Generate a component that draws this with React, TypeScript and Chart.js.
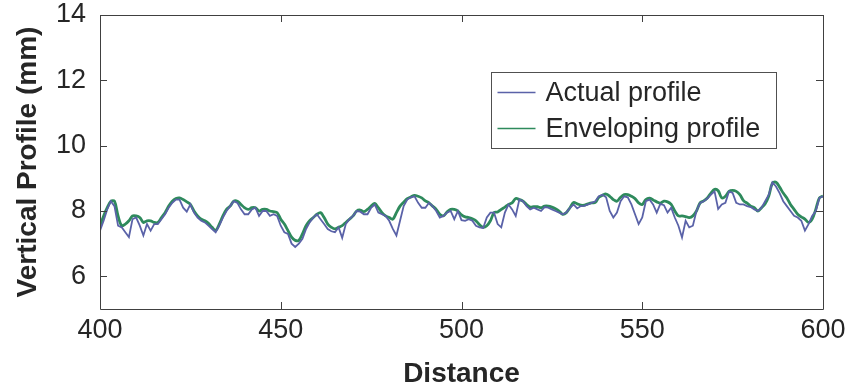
import React, { useEffect, useRef } from "react";
import { Chart, registerables } from "chart.js";

Chart.register(...registerables);

const START_DISTANCE = 400;

const actualProfile = [
  7.4, 7.7, 8.05, 8.3, 8.15, 7.55, 7.5, 7.35, 7.2, 7.75,
  7.8, 7.55, 7.25, 7.6, 7.4, 7.6, 7.6, 7.75, 7.9, 8.1,
  8.25, 8.35, 8.35, 8.1, 7.98, 8.2, 7.95, 7.8, 7.7, 7.65,
  7.55, 7.45, 7.35, 7.55, 7.8, 8.0, 8.15, 8.3, 8.25, 8.05,
  7.9, 7.9, 8.05, 8.1, 7.85, 8.0, 8.0, 7.85, 7.9, 7.85,
  7.55, 7.35, 7.3, 7.0, 6.9, 7.0, 7.15, 7.45, 7.65, 7.8,
  7.9, 7.75, 7.6, 7.45, 7.38, 7.35, 7.5, 7.18, 7.6, 7.75,
  7.85, 8.0, 7.98, 7.9, 7.9, 8.1, 8.2, 7.95, 7.9, 7.85,
  7.7, 7.45, 7.25, 7.7, 8.15, 8.35, 8.42, 8.45, 8.25, 8.1,
  8.1, 8.25, 8.15, 8.0, 7.8, 7.85, 7.95, 8.0, 7.75, 8.0,
  7.72, 7.7, 7.75, 7.7, 7.55, 7.5, 7.48, 7.8, 7.95, 7.95,
  7.6, 7.5, 7.95, 8.2, 8.05, 7.85, 8.35, 8.3, 8.15, 8.05,
  8.1, 8.05, 8.0, 8.12, 8.1, 8.05, 8.0, 7.95, 7.9, 7.95,
  8.1, 8.2, 8.08, 8.15, 8.16, 8.2, 8.25, 8.3, 8.45, 8.5,
  8.42, 8.0, 7.8, 7.95, 8.3, 8.45, 8.42, 8.2, 7.9, 7.6,
  7.8, 8.3, 8.35, 8.2, 7.95, 8.22, 8.18, 7.95, 8.1, 7.8,
  7.55, 7.19, 7.7, 7.5, 7.55, 8.0, 8.25, 8.3, 8.38, 8.5,
  8.6, 8.06, 8.2, 8.25, 8.6, 8.55, 8.25, 8.2, 8.2, 8.15,
  8.12, 8.05, 8.0, 8.1, 8.3, 8.5, 8.88, 8.75, 8.55, 8.3,
  8.15, 8.0, 7.85, 7.8, 7.7, 7.4, 7.6, 7.85, 8.0, 8.4,
  8.45,
];

const envelopingProfile = [
  7.55, 7.85, 8.1, 8.3, 8.3, 7.85, 7.55, 7.6, 7.7, 7.85,
  7.85, 7.8, 7.65, 7.7, 7.7, 7.65, 7.65, 7.8, 7.95, 8.15,
  8.3, 8.38, 8.4, 8.35, 8.28, 8.2, 8.0, 7.85, 7.75, 7.7,
  7.62, 7.5, 7.4, 7.6, 7.85, 8.05, 8.15, 8.3, 8.3, 8.2,
  8.1, 8.05, 8.1, 8.1, 8.0, 8.05, 8.05, 8.0, 7.98, 7.95,
  7.75, 7.6, 7.4, 7.2, 7.1, 7.1, 7.3, 7.55, 7.7, 7.8,
  7.9, 7.95, 7.8, 7.6, 7.5, 7.45, 7.5, 7.55, 7.65, 7.75,
  7.85, 8.0, 8.03, 7.98, 8.05, 8.15, 8.23, 8.1, 7.95, 7.85,
  7.8, 7.75, 7.95, 8.15, 8.27, 8.38, 8.43, 8.48, 8.45, 8.4,
  8.31, 8.25, 8.15, 8.05, 7.9, 7.85, 7.97, 8.05, 8.05, 8.0,
  7.88, 7.82, 7.8, 7.76, 7.7, 7.58, 7.5, 7.55, 7.7, 7.95,
  7.97, 8.05, 8.12, 8.2, 8.25, 8.38, 8.35, 8.3, 8.2, 8.12,
  8.13, 8.13, 8.1, 8.15, 8.15, 8.12, 8.07, 8.0, 7.9, 7.95,
  8.1, 8.26, 8.22, 8.18, 8.18, 8.22, 8.25, 8.26, 8.42, 8.48,
  8.52, 8.45, 8.35, 8.3, 8.42, 8.5, 8.5, 8.45, 8.38, 8.25,
  8.2, 8.35, 8.39, 8.34, 8.28, 8.24, 8.3, 8.28, 8.2, 8.0,
  7.85, 7.85, 7.83, 7.8, 7.85, 8.0, 8.25, 8.31, 8.4, 8.55,
  8.66, 8.62, 8.4, 8.45, 8.6, 8.63, 8.6, 8.5, 8.32, 8.24,
  8.15, 8.1, 8.0, 8.1, 8.22, 8.46, 8.85, 8.88, 8.73, 8.55,
  8.4, 8.2, 8.05, 7.9, 7.82, 7.75, 7.65, 7.75, 8.05, 8.4,
  8.46,
];

const distance = actualProfile.map((_, i) => START_DISTANCE + i);

const xTickValues = [400, 450, 500, 550, 600];
const yTickValues = [6, 8, 10, 12, 14];
const seriesLabels = ["Actual profile", "Enveloping profile"];

const ACTUAL_COLOR = "#5a62a8";
const ENVELOPE_COLOR = "#2e8a5c";
const TEXT_COLOR = "#262626";
const AXIS_COLOR = "#404040";
const FONT_FAMILY = "'Liberation Sans', Arial, Helvetica, sans-serif";

const framePlugin = {
  id: "frameTicks",
  afterDraw(chart: any) {
    const { ctx, chartArea } = chart;
    const { left, right, top, bottom } = chartArea;
    const xs = chart.scales.x;
    const ys = chart.scales.y;
    const tl = 7;
    ctx.save();
    ctx.strokeStyle = AXIS_COLOR;
    ctx.lineWidth = 1;
    ctx.beginPath();
    ctx.rect(Math.round(left) + 0.5, Math.round(top) + 0.5, Math.round(right - left), Math.round(bottom - top));
    ctx.stroke();
    ctx.beginPath();
    xs.ticks.forEach((t: any) => {
      const px = Math.round(xs.getPixelForValue(t.value)) + 0.5;
      ctx.moveTo(px, bottom);
      ctx.lineTo(px, bottom - tl);
      ctx.moveTo(px, top);
      ctx.lineTo(px, top + tl);
    });
    ys.ticks.forEach((t: any) => {
      const py = Math.round(ys.getPixelForValue(t.value)) + 0.5;
      ctx.moveTo(left, py);
      ctx.lineTo(left + tl, py);
      ctx.moveTo(right, py);
      ctx.lineTo(right - tl, py);
    });
    ctx.stroke();
    ctx.restore();
  },
};

const legendPlugin = {
  id: "insideLegend",
  afterDraw(chart: any) {
    const { ctx, chartArea } = chart;
    const bx = Math.round(chartArea.left + 391) + 0.5;
    const by = Math.round(chartArea.top + 57) + 0.5;
    const bw = 285;
    const bh = 76;
    ctx.save();
    ctx.fillStyle = "#ffffff";
    ctx.fillRect(bx, by, bw, bh);
    ctx.strokeStyle = "#505050";
    ctx.lineWidth = 1;
    ctx.strokeRect(bx, by, bw, bh);
    ctx.font = `27px ${FONT_FAMILY}`;
    ctx.textBaseline = "middle";
    ctx.textAlign = "left";
    chart.data.datasets.forEach((ds: any, i: number) => {
      const cy = by + 20 + i * 36;
      ctx.strokeStyle = ds.borderColor;
      ctx.lineWidth = 1.5;
      ctx.beginPath();
      ctx.moveTo(bx + 6, cy);
      ctx.lineTo(bx + 44, cy);
      ctx.stroke();
      ctx.fillStyle = TEXT_COLOR;
      ctx.fillText(ds.label, bx + 54, cy + 1);
    });
    ctx.restore();
  },
};

export default function App() {
  const ref = useRef<HTMLCanvasElement>(null);

  useEffect(() => {
    document.body.style.margin = "0";
    const canvas = ref.current;
    if (!canvas) return;
    const chart = new Chart(canvas, {
      type: "line",
      data: {
        datasets: [
          {
            label: seriesLabels[0],
            data: distance.map((x, i) => ({ x, y: actualProfile[i] })),
            borderColor: ACTUAL_COLOR,
            borderWidth: 1.8,
            pointRadius: 0,
            tension: 0,
            fill: false,
          },
          {
            label: seriesLabels[1],
            data: distance.map((x, i) => ({ x, y: envelopingProfile[i] })),
            borderColor: ENVELOPE_COLOR,
            borderWidth: 2.8,
            pointRadius: 0,
            tension: 0.35,
            fill: false,
          },
        ],
      },
      options: {
        responsive: false,
        animation: false,
        layout: { padding: { top: 15, right: 28, left: 0, bottom: 0 } },
        plugins: {
          legend: { display: false },
          tooltip: { enabled: false },
        },
        scales: {
          x: {
            type: "linear",
            min: 400,
            max: 600,
            afterBuildTicks: (s: any) => {
              s.ticks = xTickValues.map((v) => ({ value: v }));
            },
            afterFit: (s: any) => {
              s.height = 82;
              s.paddingLeft = 0;
              s.paddingRight = 0;
            },
            grid: { display: false, drawTicks: false },
            border: { display: false },
            ticks: {
              color: TEXT_COLOR,
              font: { family: FONT_FAMILY, size: 27 },
              padding: 5,
              maxRotation: 0,
              autoSkip: false,
            },
            title: {
              display: true,
              text: "Distance",
              color: TEXT_COLOR,
              font: { family: FONT_FAMILY, size: 28, weight: "bold" },
              padding: { top: 0, bottom: 0 },
            },
          },
          y: {
            type: "linear",
            min: 5,
            max: 14,
            afterBuildTicks: (s: any) => {
              s.ticks = yTickValues.map((v) => ({ value: v }));
            },
            afterFit: (s: any) => {
              s.width = 100;
              s.paddingTop = 0;
              s.paddingBottom = 0;
            },
            grid: { display: false, drawTicks: false },
            border: { display: false },
            ticks: {
              color: TEXT_COLOR,
              font: { family: FONT_FAMILY, size: 27 },
              padding: 14,
              autoSkip: false,
            },
            title: {
              display: true,
              text: "Vertical Profile (mm)",
              color: TEXT_COLOR,
              font: { family: FONT_FAMILY, size: 28, weight: "bold" },
              padding: { top: 11, bottom: 0 },
            },
          },
        },
      },
      plugins: [framePlugin, legendPlugin],
    });
    return () => chart.destroy();
  }, []);

  return <canvas ref={ref} width={851} height={391} style={{ display: "block" }} />;
}
